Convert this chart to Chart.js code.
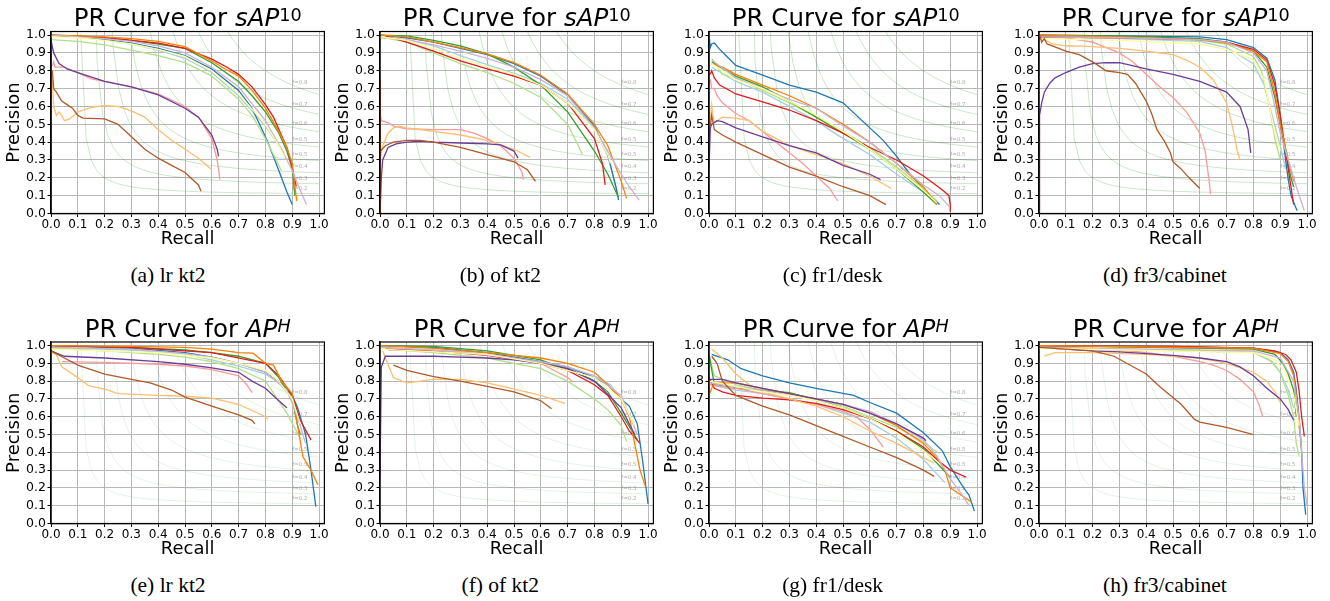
<!DOCTYPE html>
<html>
<head>
<meta charset="utf-8">
<script src="https://cdn.jsdelivr.net/npm/chart.js@4.4.1/dist/chart.umd.min.js"></script>
<style>
  body { margin: 0; background: #fff; width: 1330px; height: 601px; position: relative; overflow: hidden; font-family: "DejaVu Sans", sans-serif; }
  canvas { position: absolute; }
  .ttl { position: absolute; font-size: 24.5px; line-height: 1; white-space: nowrap; transform: translateX(-50%); color: #000; }
  .ttl .sup { font-size: 0.72em; vertical-align: 5.5px; line-height: 0; }
  .cap { position: absolute; font-family: "Liberation Serif", "Times New Roman", serif; font-size: 21.5px; white-space: nowrap; transform: translate(-50%, -50%); color: #000; }
</style>
</head>
<body>
<script>
// Paired colormap, one colour per method
const seriesColors = ['#a6cee3', '#1f78b4', '#b2df8a', '#33a02c', '#fb9a99', '#e31a1c',
                      '#fdbf6f', '#ff7f00', '#cab2d6', '#6a3d9a', '#ffff99', '#b15928'];
const tickValues = [0, 0.1, 0.2, 0.3, 0.4, 0.5, 0.6, 0.7, 0.8, 0.9, 1.0];
const fScores = [0.2, 0.2857, 0.3714, 0.4571, 0.5429, 0.6286, 0.7143, 0.8];
const panelCaptions = ['(a) lr kt2', '(b) of kt2', '(c) fr1/desk', '(d) fr3/cabinet',
                       '(e) lr kt2', '(f) of kt2', '(g) fr1/desk', '(h) fr3/cabinet'];

// [recall, precision] points, one list per colour above
const lrKt2Sap = [
  [[0,0.995],[0.1,0.99],[0.2,0.975],[0.3,0.95],[0.4,0.915],[0.5,0.87],[0.6,0.79],[0.7,0.66],[0.8,0.49],[0.85,0.38],[0.87,0.34]],
  [[0,1],[0.1,0.99],[0.2,0.975],[0.3,0.955],[0.4,0.925],[0.5,0.885],[0.6,0.81],[0.7,0.69],[0.75,0.59],[0.8,0.43],[0.83,0.32],[0.86,0.2],[0.88,0.12],[0.9,0.05]],
  [[0,0.975],[0.1,0.965],[0.2,0.945],[0.3,0.915],[0.4,0.885],[0.5,0.845],[0.6,0.77],[0.7,0.64],[0.75,0.55],[0.8,0.42],[0.84,0.3],[0.86,0.24]],
  [[0,1],[0.1,0.995],[0.2,0.985],[0.3,0.97],[0.4,0.95],[0.5,0.925],[0.6,0.845],[0.7,0.74],[0.75,0.66],[0.8,0.57],[0.85,0.45],[0.88,0.35],[0.9,0.25],[0.91,0.1]],
  [[0.005,0.83],[0.01,0.85],[0.015,0.82],[0.05,0.82],[0.1,0.79],[0.15,0.755],[0.2,0.74],[0.3,0.71],[0.4,0.67],[0.5,0.6],[0.55,0.54],[0.6,0.42],[0.62,0.3],[0.63,0.19]],
  [[0,1],[0.2,0.985],[0.4,0.955],[0.5,0.925],[0.6,0.865],[0.65,0.825],[0.7,0.78],[0.75,0.71],[0.8,0.61],[0.83,0.54],[0.88,0.37],[0.9,0.26],[0.915,0.15]],
  [[0.005,0.75],[0.01,0.6],[0.02,0.55],[0.03,0.57],[0.04,0.55],[0.05,0.52],[0.07,0.53],[0.1,0.57],[0.15,0.595],[0.2,0.605],[0.25,0.6],[0.3,0.575],[0.35,0.54],[0.4,0.47],[0.45,0.41],[0.5,0.36],[0.55,0.31],[0.6,0.245]],
  [[0,1],[0.1,0.995],[0.2,0.99],[0.3,0.98],[0.4,0.965],[0.5,0.935],[0.6,0.855],[0.65,0.81],[0.7,0.77],[0.75,0.69],[0.8,0.59],[0.85,0.46],[0.88,0.37],[0.9,0.28],[0.91,0.15],[0.917,0.07]],
  [[0,1],[0.1,0.99],[0.2,0.98],[0.3,0.965],[0.4,0.94],[0.5,0.9],[0.6,0.82],[0.7,0.71],[0.8,0.52],[0.86,0.36],[0.9,0.24],[0.93,0.13],[0.953,0.05]],
  [[0,0],[0,0.97],[0.01,0.9],[0.03,0.84],[0.06,0.81],[0.1,0.79],[0.2,0.74],[0.3,0.71],[0.4,0.665],[0.5,0.59],[0.55,0.54],[0.6,0.44],[0.62,0.36],[0.625,0.32]],
  [[0,0.99],[0.1,0.985],[0.2,0.97],[0.3,0.95],[0.4,0.92],[0.5,0.88],[0.6,0.8],[0.7,0.67],[0.8,0.5],[0.85,0.38],[0.87,0.32]],
  [[0.005,0.8],[0.01,0.7],[0.02,0.68],[0.04,0.63],[0.06,0.61],[0.08,0.59],[0.1,0.55],[0.12,0.535],[0.2,0.53],[0.25,0.5],[0.3,0.43],[0.35,0.36],[0.4,0.31],[0.45,0.27],[0.5,0.23],[0.55,0.16],[0.56,0.125]]
];

const ofKt2Sap = [
  [[0,0.985],[0.1,0.975],[0.2,0.94],[0.3,0.885],[0.4,0.835],[0.5,0.785],[0.6,0.73],[0.7,0.64],[0.8,0.48],[0.85,0.32],[0.88,0.15],[0.89,0.09]],
  [[0,1],[0.1,0.985],[0.2,0.96],[0.3,0.925],[0.4,0.89],[0.5,0.84],[0.6,0.77],[0.7,0.665],[0.8,0.49],[0.85,0.33],[0.88,0.15],[0.89,0.075]],
  [[0.02,0.985],[0.1,0.96],[0.2,0.9],[0.3,0.84],[0.4,0.79],[0.5,0.73],[0.6,0.65],[0.7,0.5],[0.74,0.38],[0.755,0.33]],
  [[0,1],[0.1,0.995],[0.2,0.97],[0.3,0.94],[0.4,0.895],[0.5,0.82],[0.6,0.72],[0.7,0.57],[0.8,0.35],[0.85,0.22],[0.89,0.09]],
  [[0,0.56],[0.005,0.52],[0.03,0.51],[0.05,0.49],[0.1,0.475],[0.2,0.47],[0.3,0.47],[0.35,0.45],[0.4,0.42],[0.45,0.38],[0.5,0.31],[0.53,0.23],[0.535,0.19]],
  [[0.02,0.995],[0.1,0.96],[0.2,0.91],[0.3,0.855],[0.4,0.81],[0.5,0.77],[0.6,0.72],[0.7,0.62],[0.8,0.42],[0.83,0.28],[0.84,0.16]],
  [[0,0.3],[0.01,0.38],[0.03,0.45],[0.05,0.48],[0.07,0.49],[0.1,0.48],[0.2,0.46],[0.3,0.44],[0.4,0.41],[0.5,0.36],[0.56,0.315]],
  [[0,1],[0.1,0.99],[0.2,0.96],[0.3,0.93],[0.4,0.895],[0.5,0.845],[0.6,0.775],[0.7,0.67],[0.8,0.5],[0.85,0.38],[0.9,0.18],[0.92,0.085]],
  [[0,0.99],[0.1,0.975],[0.2,0.945],[0.3,0.91],[0.4,0.87],[0.5,0.82],[0.6,0.75],[0.7,0.66],[0.8,0.48],[0.88,0.27],[0.93,0.15],[0.967,0.075]],
  [[0,0],[0.005,0.2],[0.01,0.3],[0.03,0.37],[0.06,0.39],[0.1,0.4],[0.15,0.405],[0.2,0.4],[0.3,0.395],[0.4,0.39],[0.45,0.385],[0.5,0.35],[0.515,0.31]],
  [[0,0.99],[0.1,0.97],[0.2,0.925],[0.3,0.87],[0.4,0.825],[0.5,0.78],[0.6,0.72],[0.7,0.62],[0.8,0.47],[0.85,0.33],[0.86,0.28]],
  [[0,0],[0,0.75],[0.003,0.35],[0.02,0.38],[0.05,0.4],[0.1,0.41],[0.15,0.41],[0.2,0.4],[0.3,0.37],[0.4,0.33],[0.5,0.29],[0.55,0.245],[0.58,0.18]]
];

const fr1DeskSap = [
  [[0.01,0.82],[0.1,0.74],[0.2,0.68],[0.3,0.6],[0.4,0.52],[0.5,0.42],[0.6,0.33],[0.7,0.22],[0.8,0.12],[0.85,0.07]],
  [[0,1],[0.005,0.93],[0.01,0.95],[0.02,0.955],[0.04,0.92],[0.06,0.89],[0.1,0.83],[0.2,0.776],[0.3,0.72],[0.4,0.68],[0.5,0.62],[0.6,0.48],[0.65,0.41],[0.7,0.32],[0.75,0.22],[0.8,0.14],[0.86,0.05]],
  [[0.01,0.87],[0.05,0.78],[0.1,0.76],[0.2,0.69],[0.3,0.62],[0.4,0.54],[0.5,0.46],[0.6,0.37],[0.7,0.26],[0.8,0.14],[0.85,0.07]],
  [[0.01,0.85],[0.03,0.83],[0.1,0.77],[0.2,0.71],[0.3,0.63],[0.4,0.54],[0.5,0.45],[0.6,0.36],[0.7,0.25],[0.8,0.12],[0.85,0.05]],
  [[0.005,0.75],[0.01,0.7],[0.02,0.7],[0.03,0.66],[0.05,0.62],[0.1,0.56],[0.15,0.52],[0.2,0.46],[0.25,0.4],[0.3,0.34],[0.35,0.28],[0.4,0.21],[0.45,0.14],[0.48,0.07]],
  [[0.005,0.78],[0.01,0.8],[0.02,0.76],[0.04,0.72],[0.1,0.67],[0.2,0.625],[0.3,0.58],[0.4,0.52],[0.5,0.45],[0.6,0.37],[0.7,0.3],[0.8,0.21],[0.85,0.155],[0.88,0.12],[0.895,0.1],[0.9,0.05],[0.9,0.01]],
  [[0.005,0.52],[0.01,0.61],[0.015,0.55],[0.02,0.51],[0.05,0.54],[0.1,0.535],[0.15,0.52],[0.2,0.46],[0.3,0.38],[0.4,0.33],[0.5,0.28],[0.6,0.21],[0.68,0.14]],
  [[0.01,0.84],[0.05,0.82],[0.1,0.78],[0.2,0.72],[0.3,0.66],[0.4,0.59],[0.5,0.5],[0.6,0.4],[0.7,0.28],[0.8,0.15],[0.85,0.05]],
  [[0.01,0.86],[0.1,0.76],[0.2,0.7],[0.3,0.64],[0.4,0.59],[0.5,0.49],[0.6,0.4],[0.7,0.28],[0.8,0.16],[0.86,0.1],[0.895,0.04]],
  [[0,0.25],[0.005,0.48],[0.01,0.5],[0.03,0.52],[0.05,0.515],[0.1,0.48],[0.2,0.43],[0.3,0.38],[0.4,0.34],[0.5,0.27],[0.6,0.22],[0.64,0.19]],
  [[0.01,0.84],[0.1,0.75],[0.2,0.7],[0.3,0.63],[0.4,0.55],[0.5,0.46],[0.6,0.36],[0.7,0.25],[0.8,0.13],[0.85,0.06]],
  [[0.005,0.49],[0.01,0.55],[0.015,0.51],[0.02,0.47],[0.03,0.46],[0.05,0.44],[0.1,0.4],[0.2,0.33],[0.3,0.26],[0.4,0.21],[0.5,0.15],[0.6,0.1],[0.66,0.05]]
];

const fr3CabinetSap = [
  [[0,0.99],[0.3,0.98],[0.6,0.965],[0.7,0.93],[0.8,0.84],[0.84,0.72],[0.87,0.55],[0.9,0.38],[0.92,0.25]],
  [[0,1],[0.3,0.995],[0.6,0.99],[0.7,0.975],[0.8,0.93],[0.85,0.87],[0.88,0.75],[0.9,0.55],[0.92,0.3],[0.93,0.19],[0.94,0.1],[0.963,0.015]],
  [[0,0.99],[0.3,0.985],[0.6,0.97],[0.7,0.95],[0.8,0.88],[0.83,0.8],[0.86,0.6],[0.88,0.42],[0.9,0.3]],
  [[0,1],[0.3,0.995],[0.6,0.98],[0.7,0.96],[0.8,0.91],[0.85,0.82],[0.88,0.65],[0.9,0.5],[0.92,0.35],[0.94,0.2],[0.95,0.15]],
  [[0,0.99],[0.1,0.985],[0.2,0.96],[0.3,0.9],[0.35,0.85],[0.4,0.78],[0.45,0.71],[0.5,0.65],[0.55,0.57],[0.6,0.45],[0.62,0.35],[0.635,0.18],[0.64,0.11]],
  [[0,0.99],[0.3,0.985],[0.6,0.975],[0.7,0.96],[0.8,0.92],[0.85,0.86],[0.88,0.72],[0.9,0.55],[0.92,0.35],[0.94,0.15],[0.95,0.05]],
  [[0,0.99],[0.05,0.95],[0.1,0.94],[0.2,0.935],[0.3,0.925],[0.4,0.91],[0.5,0.89],[0.55,0.86],[0.6,0.82],[0.65,0.75],[0.7,0.62],[0.72,0.5],[0.74,0.35],[0.75,0.3]],
  [[0,1],[0.3,0.99],[0.6,0.975],[0.7,0.955],[0.8,0.91],[0.85,0.85],[0.88,0.68],[0.9,0.5],[0.93,0.3],[0.95,0.18]],
  [[0,0.99],[0.3,0.985],[0.6,0.975],[0.7,0.96],[0.8,0.9],[0.85,0.8],[0.88,0.6],[0.9,0.45],[0.93,0.3],[0.96,0.15],[0.99,0.015]],
  [[0,0],[0.002,0.55],[0.01,0.62],[0.02,0.68],[0.04,0.73],[0.06,0.76],[0.1,0.79],[0.15,0.82],[0.2,0.84],[0.25,0.845],[0.3,0.845],[0.4,0.81],[0.5,0.78],[0.6,0.74],[0.7,0.68],[0.75,0.6],[0.78,0.47],[0.79,0.34]],
  [[0,0.98],[0.3,0.97],[0.6,0.95],[0.7,0.92],[0.8,0.86],[0.84,0.75],[0.86,0.6],[0.88,0.45],[0.9,0.35]],
  [[0,0.97],[0.005,0.99],[0.01,0.96],[0.02,0.98],[0.03,0.95],[0.05,0.94],[0.1,0.91],[0.15,0.89],[0.2,0.85],[0.22,0.83],[0.25,0.8],[0.3,0.79],[0.33,0.78],[0.36,0.73],[0.4,0.63],[0.42,0.56],[0.44,0.47],[0.47,0.4],[0.49,0.34],[0.5,0.29],[0.53,0.25],[0.56,0.2],[0.6,0.14]]
];

const lrKt2Ap = [
  [[0,0.99],[0.3,0.975],[0.5,0.95],[0.6,0.92],[0.7,0.885],[0.8,0.84],[0.85,0.79],[0.9,0.7],[0.93,0.55]],
  [[0,1],[0.3,0.985],[0.5,0.96],[0.6,0.935],[0.7,0.9],[0.8,0.85],[0.85,0.8],[0.9,0.72],[0.92,0.65],[0.95,0.5],[0.97,0.3],[0.988,0.094]],
  [[0,0.985],[0.2,0.97],[0.4,0.95],[0.5,0.935],[0.6,0.91],[0.7,0.87],[0.8,0.8],[0.88,0.62],[0.93,0.48]],
  [[0,1],[0.3,0.99],[0.5,0.975],[0.6,0.96],[0.7,0.94],[0.8,0.9],[0.85,0.82],[0.9,0.7],[0.92,0.55],[0.93,0.5]],
  [[0.04,0.91],[0.2,0.905],[0.4,0.895],[0.5,0.885],[0.6,0.865],[0.7,0.83],[0.73,0.78],[0.75,0.735]],
  [[0,1],[0.3,0.99],[0.6,0.96],[0.8,0.9],[0.85,0.83],[0.9,0.72],[0.93,0.58],[0.97,0.47]],
  [[0,0.96],[0.02,0.95],[0.04,0.88],[0.1,0.82],[0.14,0.775],[0.2,0.755],[0.25,0.73],[0.4,0.72],[0.5,0.715],[0.6,0.705],[0.7,0.67],[0.8,0.6],[0.81,0.585]],
  [[0,1],[0.3,0.995],[0.5,0.99],[0.6,0.98],[0.7,0.96],[0.754,0.957],[0.8,0.9],[0.83,0.89],[0.86,0.8],[0.9,0.73],[0.92,0.55],[0.94,0.375],[0.97,0.3],[0.996,0.216]],
  [[0,0.99],[0.3,0.98],[0.5,0.955],[0.6,0.935],[0.7,0.9],[0.8,0.85],[0.88,0.75],[0.92,0.6],[0.95,0.45]],
  [[0,0.97],[0.05,0.94],[0.2,0.93],[0.4,0.91],[0.5,0.895],[0.6,0.875],[0.7,0.85],[0.75,0.8],[0.8,0.76],[0.85,0.69],[0.88,0.65]],
  [[0,0.98],[0.4,0.96],[0.6,0.93],[0.7,0.9],[0.8,0.86],[0.85,0.8],[0.9,0.7],[0.93,0.56]],
  [[0,0.97],[0.05,0.93],[0.1,0.89],[0.2,0.84],[0.3,0.81],[0.37,0.79],[0.45,0.75],[0.5,0.71],[0.6,0.66],[0.7,0.61],[0.75,0.58],[0.76,0.56]]
];

const ofKt2Ap = [
  [[0,0.99],[0.4,0.96],[0.6,0.91],[0.7,0.87],[0.8,0.83],[0.86,0.78],[0.9,0.7],[0.95,0.55]],
  [[0,1],[0.2,0.99],[0.4,0.96],[0.6,0.91],[0.7,0.88],[0.8,0.82],[0.85,0.78],[0.9,0.7],[0.93,0.66],[0.96,0.56],[0.98,0.35],[1.0,0.11]],
  [[0.02,0.98],[0.2,0.96],[0.4,0.93],[0.5,0.9],[0.6,0.87],[0.7,0.8],[0.8,0.7],[0.85,0.64],[0.9,0.55],[0.92,0.46]],
  [[0,1],[0.2,0.995],[0.4,0.97],[0.6,0.92],[0.65,0.89],[0.7,0.87],[0.8,0.8],[0.85,0.74],[0.9,0.62],[0.94,0.52],[0.96,0.47]],
  [[0.03,0.975],[0.2,0.97],[0.4,0.95],[0.5,0.93],[0.6,0.9],[0.65,0.86],[0.7,0.82],[0.72,0.795]],
  [[0.02,0.98],[0.2,0.97],[0.4,0.945],[0.6,0.9],[0.7,0.86],[0.8,0.78],[0.85,0.72],[0.9,0.6],[0.93,0.52],[0.97,0.45]],
  [[0.01,0.97],[0.02,0.93],[0.05,0.82],[0.1,0.79],[0.15,0.8],[0.2,0.81],[0.3,0.81],[0.4,0.79],[0.5,0.755],[0.6,0.72],[0.69,0.675]],
  [[0,1],[0.2,0.985],[0.4,0.96],[0.6,0.93],[0.7,0.9],[0.8,0.85],[0.85,0.78],[0.9,0.7],[0.93,0.6],[0.95,0.45],[0.97,0.3],[0.99,0.21]],
  [[0.02,0.99],[0.3,0.965],[0.6,0.91],[0.7,0.88],[0.8,0.83],[0.9,0.72],[0.96,0.5]],
  [[0,0.27],[0.005,0.88],[0.02,0.94],[0.1,0.94],[0.2,0.94],[0.3,0.935],[0.4,0.93],[0.5,0.92],[0.6,0.9],[0.7,0.87],[0.8,0.8],[0.9,0.65],[0.95,0.5]],
  [[0,0.98],[0.4,0.95],[0.6,0.9],[0.8,0.82],[0.9,0.7],[0.95,0.55]],
  [[0.05,0.89],[0.1,0.86],[0.2,0.825],[0.3,0.8],[0.4,0.77],[0.5,0.74],[0.6,0.69],[0.64,0.645]]
];

const fr1DeskAp = [
  [[0,0.78],[0.1,0.75],[0.2,0.73],[0.3,0.7],[0.4,0.67],[0.5,0.62],[0.6,0.57],[0.7,0.48],[0.8,0.36],[0.88,0.23]],
  [[0.01,0.95],[0.07,0.92],[0.12,0.87],[0.2,0.83],[0.3,0.79],[0.4,0.76],[0.54,0.72],[0.6,0.68],[0.7,0.62],[0.8,0.51],[0.87,0.41],[0.9,0.32],[0.95,0.2],[0.97,0.16],[0.99,0.07]],
  [[0,0.95],[0.02,0.83],[0.1,0.78],[0.2,0.75],[0.3,0.73],[0.4,0.7],[0.5,0.66],[0.6,0.6],[0.7,0.54],[0.8,0.46],[0.85,0.4]],
  [[0,0.95],[0.02,0.78],[0.1,0.76],[0.2,0.75],[0.3,0.735],[0.4,0.695],[0.5,0.65],[0.6,0.59],[0.7,0.52],[0.8,0.42],[0.85,0.34],[0.9,0.26]],
  [[0,0.78],[0.1,0.76],[0.2,0.73],[0.3,0.7],[0.4,0.67],[0.5,0.63],[0.55,0.6],[0.6,0.53],[0.63,0.47],[0.65,0.43]],
  [[0,0.82],[0.02,0.76],[0.05,0.74],[0.1,0.72],[0.2,0.705],[0.3,0.695],[0.4,0.675],[0.5,0.64],[0.6,0.59],[0.7,0.52],[0.8,0.43],[0.85,0.36],[0.9,0.3],[0.96,0.26]],
  [[0.01,0.98],[0.05,0.93],[0.1,0.84],[0.15,0.78],[0.2,0.74],[0.3,0.7],[0.4,0.66],[0.5,0.6],[0.6,0.52],[0.7,0.45],[0.8,0.37],[0.84,0.34]],
  [[0,0.72],[0.01,0.76],[0.02,0.79],[0.1,0.79],[0.2,0.76],[0.3,0.73],[0.4,0.7],[0.5,0.67],[0.6,0.62],[0.7,0.55],[0.8,0.45],[0.85,0.37],[0.88,0.3],[0.9,0.2],[0.95,0.15],[0.98,0.12]],
  [[0,0.79],[0.1,0.77],[0.2,0.75],[0.3,0.72],[0.4,0.69],[0.5,0.67],[0.6,0.63],[0.7,0.56],[0.8,0.47],[0.85,0.38],[0.9,0.25],[0.95,0.15],[0.97,0.1]],
  [[0,0.81],[0.05,0.81],[0.1,0.79],[0.2,0.76],[0.3,0.73],[0.4,0.7],[0.5,0.67],[0.6,0.62],[0.7,0.56],[0.8,0.48],[0.81,0.465]],
  [[0,0.8],[0.1,0.77],[0.2,0.74],[0.3,0.72],[0.4,0.69],[0.5,0.65],[0.6,0.59],[0.7,0.51],[0.8,0.41],[0.85,0.35]],
  [[0.01,0.94],[0.03,0.9],[0.05,0.8],[0.1,0.72],[0.2,0.66],[0.3,0.61],[0.4,0.55],[0.5,0.49],[0.6,0.43],[0.7,0.37],[0.8,0.3],[0.84,0.265]]
];

const fr3CabinetAp = [
  [[0,0.99],[0.8,0.96],[0.87,0.91],[0.9,0.85],[0.93,0.75],[0.95,0.65]],
  [[0,1],[0.5,0.995],[0.8,0.985],[0.9,0.96],[0.93,0.92],[0.95,0.85],[0.96,0.75],[0.97,0.6],[0.98,0.4],[0.985,0.2],[0.995,0.05]],
  [[0,0.99],[0.8,0.965],[0.86,0.92],[0.9,0.85],[0.93,0.72],[0.95,0.6],[0.96,0.45],[0.97,0.38]],
  [[0,1],[0.8,0.98],[0.88,0.95],[0.91,0.9],[0.93,0.84],[0.95,0.75],[0.96,0.6]],
  [[0,0.99],[0.3,0.975],[0.4,0.96],[0.5,0.94],[0.6,0.91],[0.65,0.89],[0.7,0.86],[0.75,0.81],[0.8,0.74],[0.82,0.67],[0.835,0.6]],
  [[0,1],[0.5,0.995],[0.8,0.985],[0.88,0.97],[0.92,0.95],[0.94,0.92],[0.96,0.85],[0.97,0.75],[0.98,0.6],[0.99,0.49]],
  [[0.02,0.94],[0.06,0.96],[0.2,0.96],[0.4,0.95],[0.6,0.93],[0.7,0.9],[0.8,0.85],[0.85,0.8],[0.88,0.74],[0.9,0.68]],
  [[0,1],[0.8,0.985],[0.9,0.955],[0.93,0.91],[0.95,0.83],[0.96,0.72],[0.97,0.55],[0.98,0.42]],
  [[0,0.99],[0.8,0.97],[0.9,0.93],[0.95,0.8],[0.97,0.6],[0.99,0.2],[1.0,0.1]],
  [[0,0.99],[0.1,0.98],[0.2,0.97],[0.3,0.965],[0.4,0.955],[0.5,0.945],[0.6,0.93],[0.7,0.91],[0.75,0.88],[0.8,0.83],[0.85,0.76],[0.9,0.7],[0.93,0.64],[0.95,0.58]],
  [[0,0.985],[0.8,0.96],[0.88,0.92],[0.92,0.85],[0.95,0.72],[0.97,0.55]],
  [[0,0.99],[0.1,0.98],[0.2,0.97],[0.28,0.94],[0.4,0.84],[0.45,0.77],[0.53,0.67],[0.58,0.585],[0.6,0.57],[0.7,0.54],[0.8,0.5]]
];

const panels = [lrKt2Sap, ofKt2Sap, fr1DeskSap, fr3CabinetSap, lrKt2Ap, ofKt2Ap, fr1DeskAp, fr3CabinetAp];

const colLeft = [0, 329, 658, 988];
const rowTop = [0, 310];
const rowPadTop = [31.5, 32];
const titleTop = [6, 316.5];
const capY = [275, 585];

// iso-F reference contours, sampled the way the original plot did (50 points on [0.01, 1])
function isoCurve(f) {
  const pts = [];
  for (let k = 0; k < 50; k++) {
    const x = 0.01 + k * 0.99 / 49;
    const y = f * x / (2 * x - f);
    if (y >= 0) pts.push({ x, y });
  }
  return pts;
}

const framePlugin = {
  id: 'frame',
  beforeDatasetsDraw(chart) {
    const { ctx } = chart;
    const xs = chart.scales.x, ys = chart.scales.y;
    const x45 = 0.01 + 45 * 0.99 / 49;
    ctx.save();
    ctx.font = '5.5px "DejaVu Sans"';
    ctx.fillStyle = 'rgba(128,128,128,0.65)';
    ctx.textBaseline = 'alphabetic';
    fScores.forEach(f => {
      const y = f * x45 / (2 * x45 - f) + 0.02;
      ctx.fillText('f=' + f.toFixed(1), xs.getPixelForValue(0.9), ys.getPixelForValue(y));
    });
    ctx.restore();
  },
  afterDatasetsDraw(chart) {
    const { ctx, chartArea: a } = chart;
    ctx.save();
    ctx.strokeStyle = '#000';
    ctx.lineWidth = 1.2;
    ctx.strokeRect(a.left, a.top, a.right - a.left, a.bottom - a.top);
    ctx.restore();
  }
};

function axis(title, isX) {
  return {
    type: 'linear', min: 0, max: 1.02,
    afterBuildTicks: s => { s.ticks = tickValues.map(v => ({ value: v })); },
    afterFit: s => { if (isX) s.height = 37.5; else s.width = 51; },
    ticks: {
      callback: v => Number(v).toFixed(1), autoSkip: false, maxRotation: 0, minRotation: 0,
      padding: isX ? 1 : 1.5, color: '#000',
      font: { family: 'DejaVu Sans', size: isX ? 12 : 12.5 }
    },
    grid: { color: '#b8b8b8', lineWidth: 1, drawTicks: true, tickLength: 3.5, tickColor: '#000' },
    border: { display: true, color: '#000', width: 1.2 },
    title: {
      display: true, text: title, color: '#000',
      font: { family: 'DejaVu Sans', size: 18 },
      padding: isX ? { top: 0, bottom: 1 } : { top: 4, bottom: 0 }
    }
  };
}

panels.forEach((curves, idx) => {
  const col = idx % 4, row = Math.floor(idx / 4);
  const canvas = document.createElement('canvas');
  canvas.width = 330; canvas.height = 251;
  canvas.style.left = colLeft[col] + 'px';
  canvas.style.top = rowTop[row] + 'px';
  document.body.appendChild(canvas);

  const isoColor = row === 0 ? 'rgba(0,128,0,0.2)' : 'rgba(0,128,0,0.1)';
  const datasets = fScores.map(f => ({
    data: isoCurve(f), borderColor: isoColor, borderWidth: 1, pointRadius: 0,
    showLine: true, order: 100
  }));
  curves.forEach((c, i) => datasets.push({
    data: c.map(([x, y]) => ({ x, y })), borderColor: seriesColors[i], borderWidth: 1.3,
    pointRadius: 0, showLine: true, order: -i
  }));

  new Chart(canvas, {
    type: 'scatter',
    data: { datasets },
    options: {
      responsive: false, animation: false, devicePixelRatio: 1,
      layout: { padding: { top: rowPadTop[row], right: 5.6, left: 0, bottom: 0 } },
      plugins: { legend: { display: false }, tooltip: { enabled: false } },
      scales: { x: axis('Recall', true), y: axis('Precision', false) }
    },
    plugins: [framePlugin]
  });

  const t = document.createElement('div');
  t.className = 'ttl';
  t.style.left = (colLeft[col] + 51 + 136.7) + 'px';
  t.style.top = titleTop[row] + 'px';
  t.innerHTML = row === 0
    ? 'PR Curve for <i>sAP</i><span class="sup">10</span>'
    : 'PR Curve for <i>AP</i><span class="sup"><i>H</i></span>';
  document.body.appendChild(t);

  const cap = document.createElement('div');
  cap.className = 'cap';
  cap.style.left = (168 + 332.3 * col) + 'px';
  cap.style.top = capY[row] + 'px';
  cap.textContent = panelCaptions[idx];
  document.body.appendChild(cap);
});
</script>
</body>
</html>
